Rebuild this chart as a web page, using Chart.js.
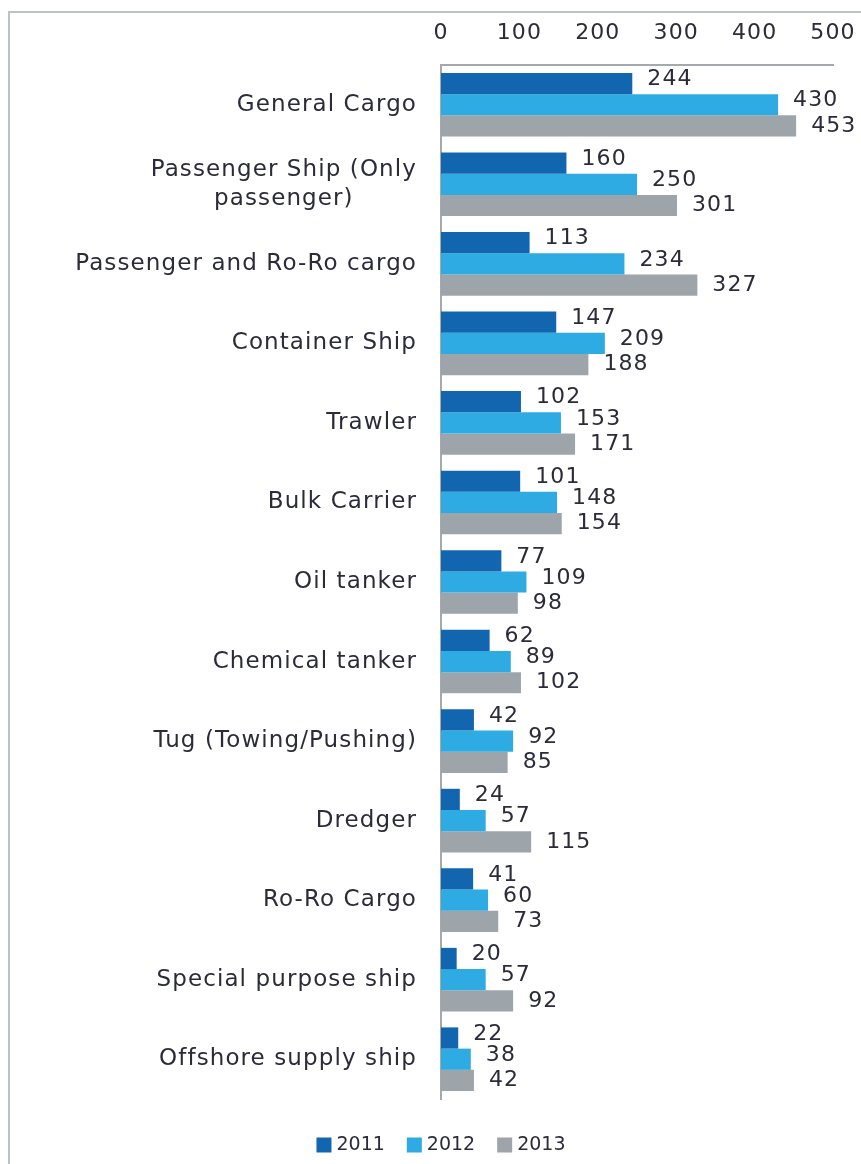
<!DOCTYPE html>
<html>
<head>
<meta charset="utf-8">
<script src="https://cdn.jsdelivr.net/npm/chart.js@4.4.1/dist/chart.umd.min.js"></script>
<style>
  html, body { margin: 0; padding: 0; background: #fff; }
  #wrap { position: relative; width: 861px; height: 1164px; }
  /* thin frame on the top and left edges */
  #frame {
    position: absolute; left: 8px; top: 11px; right: 0; bottom: 0;
    border-top: 2px solid #bcc3c7; border-left: 2px solid #bcc3c7;
  }
  #chart { position: absolute; left: 0; top: 0; }
</style>
</head>
<body>
<div id="wrap">
  <div id="frame"></div>
  <canvas id="chart" width="861" height="1164"></canvas>
</div>
<script>
const shipTypes = [
  'General Cargo',
  ['Passenger Ship (Only', 'passenger)'],
  'Passenger and Ro-Ro cargo',
  'Container Ship',
  'Trawler',
  'Bulk Carrier',
  'Oil tanker',
  'Chemical tanker',
  'Tug (Towing/Pushing)',
  'Dredger',
  'Ro-Ro Cargo',
  'Special purpose ship',
  'Offshore supply ship'
]
const years = ['2011', '2012', '2013']
const values2011 = [244, 160, 113, 147, 102, 101, 77, 62, 42, 24, 41, 20, 22]
const values2012 = [430, 250, 234, 209, 153, 148, 109, 89, 92, 57, 60, 57, 38]
const values2013 = [453, 301, 327, 188, 171, 154, 98, 102, 85, 115, 73, 92, 42]
const xTicks = [0, 100, 200, 300, 400, 500]

const yearColors = ['#1266b0', '#2eabe2', '#9da5ab']
const textColor = '#2b2b3a'
const fontFamily = '"DejaVu Sans", sans-serif'
const spacing = '1.1px'

// loose letter spacing for the axis tick text
const looseText = {
  id: 'looseText',
  beforeDraw(chart) { chart.ctx.letterSpacing = spacing }
}

// category names left of the axis, two-line names centred on their widest line
const categoryLabels = {
  id: 'categoryLabels',
  afterDraw(chart) {
    const ctx = chart.ctx
    const yScale = chart.scales.y
    const right = chart.chartArea.left - 24
    ctx.save()
    ctx.letterSpacing = spacing
    ctx.font = '23px ' + fontFamily
    ctx.fillStyle = textColor
    ctx.textBaseline = 'middle'
    ctx.textAlign = 'center'
    shipTypes.forEach((label, i) => {
      const y = yScale.getPixelForValue(i)
      const lines = Array.isArray(label) ? label : [label]
      const widest = Math.max(...lines.map(l => ctx.measureText(l).width))
      const cx = right - widest / 2
      const lh = 29
      lines.forEach((line, j) => {
        ctx.fillText(line, cx, y + (j - (lines.length - 1) / 2) * lh)
      })
    })
    ctx.restore()
  }
}

// value printed just past the end of each bar
const labelLift = [-4, -4, 0]
const valueLabels = {
  id: 'valueLabels',
  afterDatasetsDraw(chart) {
    const ctx = chart.ctx
    ctx.save()
    ctx.letterSpacing = spacing
    ctx.font = '22px ' + fontFamily
    ctx.fillStyle = textColor
    ctx.textAlign = 'left'
    ctx.textBaseline = 'middle'
    chart.data.datasets.forEach((ds, di) => {
      chart.getDatasetMeta(di).data.forEach((bar, i) => {
        ctx.fillText(String(ds.data[i]), bar.x + 15, bar.y + labelLift[di])
      })
    })
    ctx.restore()
  }
}

// small square + year legend under the plot
const yearLegend = {
  id: 'yearLegend',
  afterDraw(chart) {
    const ctx = chart.ctx
    const box = 15
    const gap = 5
    const between = 22
    const y = 1145
    ctx.save()
    ctx.letterSpacing = '0px'
    ctx.font = '19px ' + fontFamily
    ctx.textBaseline = 'middle'
    ctx.textAlign = 'left'
    const items = chart.data.datasets.map(ds => ({
      text: ds.label, color: ds.backgroundColor, w: ctx.measureText(ds.label).width
    }))
    const total = items.reduce((s, it) => s + box + gap + it.w, 0) + between * (items.length - 1)
    let x = chart.chartArea.left - total / 2
    items.forEach(it => {
      ctx.fillStyle = it.color
      ctx.fillRect(x, y - box / 2, box, box)
      ctx.fillStyle = textColor
      ctx.fillText(it.text, x + box + gap, y)
      x += box + gap + it.w + between
    })
    ctx.restore()
  }
}

const config = {
  type: 'bar',
  data: {
    labels: shipTypes.map(l => Array.isArray(l) ? l.join(' ') : l),
    datasets: [
      { label: years[0], data: values2011, backgroundColor: yearColors[0] },
      { label: years[1], data: values2012, backgroundColor: yearColors[1] },
      { label: years[2], data: values2013, backgroundColor: yearColors[2] }
    ]
  },
  options: {
    indexAxis: 'y',
    responsive: false,
    animation: false,
    events: [],
    barPercentage: 1,
    categoryPercentage: 0.8,
    layout: { padding: { top: 0, right: 28, bottom: 65, left: 0 } },
    plugins: {
      legend: { display: false },
      tooltip: { enabled: false }
    },
    scales: {
      x: {
        position: 'top',
        min: 0,
        max: 500,
        afterBuildTicks: axis => { axis.ticks = xTicks.map(v => ({ value: v })) },
        afterFit: axis => {
          axis.height = 65
          axis.paddingLeft = 0
          axis.paddingRight = 0
        },
        grid: { display: false },
        border: { display: true, color: '#a3a9ad', width: 2 },
        ticks: {
          color: textColor,
          padding: 11,
          font: { family: fontFamily, size: 22 }
        }
      },
      y: {
        afterFit: axis => { axis.width = 441 },
        grid: { display: false },
        border: { display: true, color: '#a3a9ad', width: 2 },
        ticks: { display: false }
      }
    }
  },
  plugins: [looseText, categoryLabels, valueLabels, yearLegend]
}

new Chart(document.getElementById('chart'), config)
</script>
</body>
</html>
